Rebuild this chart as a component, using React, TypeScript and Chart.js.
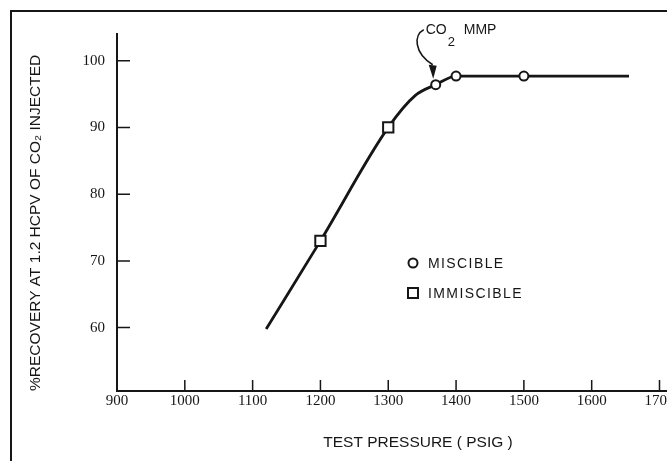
import React, { useEffect, useRef } from "react";
import { Chart, registerables } from "chart.js";

Chart.register(...registerables);

// ---- data ----
const xTicks = [900, 1000, 1100, 1200, 1300, 1400, 1500, 1600, 1700];
const yTicks = [60, 70, 80, 90, 100];
const curveX = [1120, 1200, 1300, 1340, 1370, 1400, 1500, 1655];
const curveY = [59.8, 73, 90, 94.8, 96.4, 97.7, 97.7, 97.7];
const miscibleX = [1370, 1400, 1500];
const miscibleY = [96.4, 97.7, 97.7];
const immiscibleX = [1200, 1300];
const immiscibleY = [73, 90];
const mmpX = 1370;
const mmpY = 96.4;
const seriesLabels = ["MISCIBLE", "IMMISCIBLE"];
const xTitle = "TEST PRESSURE ( PSIG )";
const yTitle = "%RECOVERY AT 1.2 HCPV OF CO\u2082 INJECTED";

const SANS = '"Liberation Sans", Arial, "DejaVu Sans", sans-serif';
const SERIF = '"Liberation Serif", "Times New Roman", serif';
const INK = "#161616";

const framePlugin = {
  id: "frame",
  beforeDraw(chart: any) {
    const ctx = chart.ctx;
    ctx.save();
    ctx.fillStyle = "#fff";
    ctx.fillRect(0, 0, chart.width, chart.height);
    ctx.fillStyle = INK;
    ctx.fillRect(10, 10, 2, chart.height - 10);
    ctx.fillRect(10, 10, chart.width - 10, 2);
    ctx.restore();
  },
};

const inwardTicksPlugin = {
  id: "inwardTicks",
  beforeDatasetsDraw(chart: any) {
    const { ctx, chartArea } = chart;
    const xs = chart.scales.x;
    const ys = chart.scales.y;
    ctx.save();
    ctx.strokeStyle = INK;
    ctx.lineWidth = 1.5;
    ctx.beginPath();
    for (const v of yTicks) {
      const py = ys.getPixelForValue(v);
      ctx.moveTo(chartArea.left, py);
      ctx.lineTo(chartArea.left + 13, py);
    }
    for (const v of xTicks) {
      if (v === xs.min) continue;
      const px = xs.getPixelForValue(v);
      ctx.moveTo(px, chartArea.bottom);
      ctx.lineTo(px, chartArea.bottom - 11);
    }
    ctx.stroke();
    // axis continues a little past the last tick
    ctx.lineWidth = 2;
    ctx.beginPath();
    ctx.moveTo(chartArea.right, chartArea.bottom);
    ctx.lineTo(chartArea.right + 12, chartArea.bottom);
    ctx.stroke();
    ctx.restore();
  },
};

const decorPlugin = {
  id: "decor",
  afterDatasetsDraw(chart: any) {
    const { ctx, chartArea } = chart;
    const xs = chart.scales.x;
    const ys = chart.scales.y;
    ctx.save();
    ctx.fillStyle = INK;
    ctx.strokeStyle = INK;

    // x axis title
    ctx.font = `15.5px ${SANS}`;
    ctx.textAlign = "center";
    ctx.textBaseline = "middle";
    ctx.fillText(xTitle, chartArea.left + 301, chartArea.bottom + 52);

    // legend (inside plot)
    const lx = chartArea.left + 296;
    const ly = chartArea.top + 229;
    const items = chart.data.datasets.filter((d: any) => d.label);
    items.forEach((d: any, i: number) => {
      const cy = ly + i * 30;
      ctx.lineWidth = 2;
      ctx.fillStyle = "#fff";
      ctx.beginPath();
      if (d.pointStyle === "rect") {
        ctx.rect(lx - 5, cy - 5, 10, 10);
      } else {
        ctx.arc(lx, cy, 4.5, 0, Math.PI * 2);
      }
      ctx.fill();
      ctx.stroke();
      ctx.fillStyle = INK;
      ctx.font = `14px ${SANS}`;
      (ctx as any).letterSpacing = "1.4px";
      ctx.textAlign = "left";
      ctx.textBaseline = "middle";
      ctx.fillText(d.label, lx + 15, cy + 1);
      (ctx as any).letterSpacing = "0px";
    });

    // CO2 MMP annotation
    const ax = xs.getPixelForValue(mmpX);
    const ay = ys.getPixelForValue(mmpY);
    ctx.textAlign = "left";
    ctx.textBaseline = "middle";
    ctx.font = `14px ${SANS}`;
    ctx.fillText("CO", ax - 10, ay - 55);
    const wco = ctx.measureText("CO").width;
    ctx.font = `13px ${SANS}`;
    ctx.fillText("2", ax - 10 + wco + 1, ay - 42);
    ctx.font = `14px ${SANS}`;
    ctx.fillText("MMP", ax + 28, ay - 55);

    ctx.lineWidth = 1.6;
    ctx.beginPath();
    ctx.moveTo(ax - 12, ay - 55);
    ctx.bezierCurveTo(ax - 22, ay - 50, ax - 22, ay - 32, ax - 3, ay - 20);
    ctx.stroke();
    ctx.beginPath();
    ctx.moveTo(ax - 7, ay - 20);
    ctx.lineTo(ax + 1, ay - 19);
    ctx.lineTo(ax - 2.5, ay - 6);
    ctx.closePath();
    ctx.fill();
    ctx.restore();
  },
};

export default function App() {
  const ref = useRef<HTMLCanvasElement | null>(null);

  useEffect(() => {
    const canvas = ref.current;
    if (!canvas) return;
    Chart.defaults.font.family = SANS;
    Chart.defaults.color = INK;
    const chart = new Chart(canvas, {
      type: "scatter",
      data: {
        datasets: [
          {
            label: seriesLabels[0],
            data: miscibleX.map((x, i) => ({ x, y: miscibleY[i] })),
            pointStyle: "circle",
            pointRadius: 4.5,
            pointBackgroundColor: "#fff",
            pointBorderColor: INK,
            pointBorderWidth: 2,
            showLine: false,
            order: 0,
          },
          {
            label: seriesLabels[1],
            data: immiscibleX.map((x, i) => ({ x, y: immiscibleY[i] })),
            pointStyle: "rect",
            pointRadius: 7.3,
            pointBackgroundColor: "#fff",
            pointBorderColor: INK,
            pointBorderWidth: 2,
            showLine: false,
            order: 0,
          },
          {
            label: "",
            data: curveX.map((x, i) => ({ x, y: curveY[i] })),
            showLine: true,
            borderColor: INK,
            borderWidth: 2.8,
            pointRadius: 0,
            cubicInterpolationMode: "monotone",
            order: 1,
          } as any,
        ],
      },
      options: {
        animation: false,
        responsive: false,
        devicePixelRatio: 1,
        events: [],
        layout: { padding: { left: 0, top: 34, right: 60.5, bottom: 0 } },
        plugins: {
          legend: { display: false },
          tooltip: { enabled: false },
        },
        scales: {
          x: {
            type: "linear",
            min: 900,
            max: 1700,
            afterBuildTicks: (s: any) => {
              s.ticks = xTicks.map((v) => ({ value: v }));
            },
            afterFit: (s: any) => {
              s.height = 70;
            },
            grid: { display: true, drawOnChartArea: false, drawTicks: false },
            border: { display: true, color: INK, width: 2 },
            ticks: {
              padding: 1,
              autoSkip: false,
              maxRotation: 0,
              color: INK,
              font: { family: SERIF, size: 15 },
              callback: (v: any) => String(v),
            },
          },
          y: {
            type: "linear",
            min: 50.5,
            max: 104,
            afterBuildTicks: (s: any) => {
              s.ticks = yTicks.map((v) => ({ value: v }));
            },
            afterFit: (s: any) => {
              s.width = 117;
            },
            grid: { display: true, drawOnChartArea: false, drawTicks: false },
            border: { display: true, color: INK, width: 2 },
            ticks: {
              padding: 12,
              color: INK,
              font: { family: SERIF, size: 15 },
              callback: (v: any) => String(v),
            },
            title: {
              display: true,
              text: yTitle,
              align: "start",
              color: INK,
              font: { family: SANS, size: 15.5 },
              padding: { top: 26, bottom: 0 },
            },
          },
        },
      },
      plugins: [framePlugin, inwardTicksPlugin, decorPlugin],
    } as any);
    return () => chart.destroy();
  }, []);

  return (
    <div
      style={{
        position: "fixed",
        left: 0,
        top: 0,
        width: 667,
        height: 461,
        overflow: "hidden",
        background: "#fff",
      }}
    >
      <canvas
        ref={ref}
        width={720}
        height={461}
        style={{ position: "absolute", left: 0, top: 0, width: 720, height: 461 }}
      />
    </div>
  );
}
